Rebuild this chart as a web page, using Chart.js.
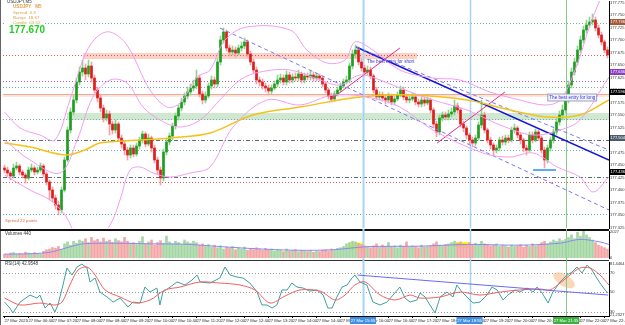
<!DOCTYPE html>
<html><head><meta charset="utf-8"><title>USDJPY M5</title>
<script src="https://cdn.jsdelivr.net/npm/chart.js@4.4.1/dist/chart.umd.min.js"></script>
<style>
html,body{margin:0;padding:0;background:#fff;}
#wrap{position:relative;width:625px;height:325px;overflow:hidden;background:#fff;font-family:Arial,"Liberation Sans",sans-serif;}
canvas{position:absolute;left:0;display:block;}
.t{position:absolute;white-space:nowrap;line-height:1;}
</style></head><body>
<div id="wrap">
<canvas id="cMain" width="625" height="229" style="top:0"></canvas>
<canvas id="cVol" width="625" height="31" style="top:229px"></canvas>
<canvas id="cRsi" width="625" height="65" style="top:260px"></canvas>
<div class="t" style="left:7px;top:0px;font-size:4.5px;color:#333">USDJPY,M5</div>
<div style="position:absolute;left:5px;top:4px;width:40px;height:31px;background:#fff"></div>
<div class="t" style="left:13px;top:5px;font-size:4.6px;color:#d9a24e;font-weight:bold">USDJPY&nbsp;&nbsp;&nbsp;M5</div>
<div class="t" style="left:13px;top:10.5px;font-size:4.4px;color:#d9a24e">Spread&nbsp;&nbsp;3.3</div>
<div class="t" style="left:13px;top:15.5px;font-size:4.4px;color:#d9a24e">Range&nbsp;&nbsp;18.67</div>
<div class="t" style="left:13px;top:20.5px;font-size:4.4px;color:#d9a24e">Candle&nbsp;&nbsp;03:52</div>
<div class="t" style="left:9px;top:25px;font-size:10px;color:#1fd01f;font-weight:bold">177.670</div>
<div class="t" style="left:5px;top:219px;font-size:4.3px;color:#e0703a">Spread 22 points</div>
<div class="t" style="left:5px;top:232px;font-size:4.5px;color:#333">Volumes 440</div>
<div class="t" style="left:5px;top:262px;font-size:4.5px;color:#333">RSI(14) 42.9548</div>
<div class="t" style="left:610px;top:262px;font-size:4px;color:#333">81.4464</div>
<div class="t" style="left:610px;top:313px;font-size:4px;color:#333">21.2327</div>
</div>
<script>
// ---------- data ----------
const open = [
177.444,177.440,177.434,177.428,177.444,177.448,177.436,177.430,177.424,177.440,
177.444,177.436,177.440,177.448,177.432,177.416,177.400,177.384,177.370,177.360,
177.400,177.460,177.520,177.556,177.580,177.616,177.636,177.644,177.632,177.648,
177.624,177.600,177.584,177.564,177.544,177.552,177.532,177.520,177.532,177.504,
177.492,177.480,177.470,177.484,177.472,177.488,177.500,177.512,177.492,177.504,
177.484,177.460,177.440,177.424,177.476,177.496,177.508,177.528,177.548,177.564,
177.576,177.588,177.596,177.604,177.608,177.624,177.592,177.580,177.588,177.608,
177.620,177.612,177.656,177.700,177.716,177.684,177.676,177.680,177.674,177.684,
177.688,177.696,177.672,177.656,177.640,177.620,177.616,177.608,177.604,177.598,
177.604,177.612,177.620,177.624,177.616,177.630,177.620,177.626,177.624,177.632,
177.620,177.628,177.626,177.630,177.624,177.628,177.624,177.612,177.600,177.588,
177.582,177.592,177.600,177.608,177.616,177.620,177.648,177.672,177.680,177.656,
177.644,177.636,177.640,177.628,177.600,177.586,177.590,177.584,177.580,177.588,
177.576,177.582,177.590,177.600,177.586,177.580,177.582,177.586,177.576,177.572,
177.580,177.574,177.580,177.560,177.532,177.516,177.544,177.550,177.546,177.552,
177.556,177.568,177.560,177.532,177.524,177.510,177.500,177.494,177.504,177.530,
177.550,177.520,177.500,177.490,177.480,177.484,177.500,177.496,177.504,177.500,
177.520,177.524,177.510,177.500,177.484,177.480,177.510,177.500,177.516,177.504,
177.480,177.460,177.484,177.500,177.516,177.536,177.550,177.560,177.580,177.610,
177.636,177.656,177.680,177.700,177.720,177.730,177.736,177.740,177.724,177.710,
177.696,177.680];
const close = [
177.440,177.434,177.428,177.444,177.448,177.436,177.430,177.424,177.440,177.444,
177.436,177.440,177.448,177.432,177.416,177.400,177.384,177.370,177.360,177.400,
177.460,177.520,177.556,177.580,177.616,177.636,177.644,177.632,177.648,177.624,
177.600,177.584,177.564,177.544,177.552,177.532,177.520,177.532,177.504,177.492,
177.480,177.470,177.484,177.472,177.488,177.500,177.512,177.492,177.504,177.484,
177.460,177.440,177.424,177.476,177.496,177.508,177.528,177.548,177.564,177.576,
177.588,177.596,177.604,177.608,177.624,177.592,177.580,177.588,177.608,177.620,
177.612,177.656,177.700,177.716,177.684,177.676,177.680,177.674,177.684,177.688,
177.696,177.672,177.656,177.640,177.620,177.616,177.608,177.604,177.598,177.604,
177.612,177.620,177.624,177.616,177.630,177.620,177.626,177.624,177.632,177.620,
177.628,177.626,177.630,177.624,177.628,177.624,177.612,177.600,177.588,177.582,
177.592,177.600,177.608,177.616,177.620,177.648,177.672,177.680,177.656,177.644,
177.636,177.640,177.628,177.600,177.586,177.590,177.584,177.580,177.588,177.576,
177.582,177.590,177.600,177.586,177.580,177.582,177.586,177.576,177.572,177.580,
177.574,177.580,177.560,177.532,177.516,177.544,177.550,177.546,177.552,177.556,
177.568,177.560,177.532,177.524,177.510,177.500,177.494,177.504,177.530,177.550,
177.520,177.500,177.490,177.480,177.484,177.500,177.496,177.504,177.500,177.520,
177.524,177.510,177.500,177.484,177.480,177.510,177.500,177.516,177.504,177.480,
177.460,177.484,177.500,177.516,177.536,177.550,177.560,177.580,177.610,177.636,
177.656,177.680,177.700,177.720,177.730,177.736,177.740,177.724,177.710,177.696,
177.680,177.670];
const high = [
177.450,177.446,177.438,177.452,177.456,177.452,177.440,177.434,177.446,177.452,
177.448,177.446,177.454,177.452,177.436,177.420,177.406,177.390,177.378,177.406,
177.466,177.526,177.564,177.590,177.624,177.646,177.660,177.652,177.660,177.656,
177.630,177.606,177.590,177.570,177.560,177.558,177.538,177.540,177.536,177.510,
177.498,177.486,177.490,177.490,177.494,177.506,177.518,177.516,177.512,177.508,
177.490,177.466,177.446,177.482,177.502,177.514,177.534,177.554,177.570,177.584,
177.594,177.606,177.612,177.620,177.640,177.630,177.598,177.596,177.614,177.628,
177.626,177.662,177.708,177.724,177.720,177.690,177.688,177.686,177.690,177.696,
177.704,177.700,177.678,177.662,177.646,177.626,177.622,177.614,177.610,177.610,
177.618,177.630,177.632,177.630,177.638,177.636,177.632,177.634,177.640,177.636,
177.634,177.634,177.638,177.636,177.634,177.632,177.628,177.616,177.604,177.594,
177.598,177.606,177.614,177.622,177.628,177.654,177.680,177.690,177.686,177.662,
177.650,177.648,177.646,177.632,177.606,177.596,177.596,177.590,177.594,177.592,
177.588,177.596,177.608,177.606,177.592,177.588,177.594,177.590,177.582,177.586,
177.586,177.586,177.584,177.564,177.538,177.550,177.556,177.556,177.560,177.564,
177.580,177.574,177.564,177.538,177.528,177.514,177.506,177.510,177.536,177.580,
177.556,177.524,177.506,177.494,177.490,177.506,177.508,177.510,177.510,177.526,
177.532,177.528,177.514,177.504,177.490,177.516,177.516,177.522,177.520,177.508,
177.486,177.490,177.506,177.522,177.542,177.558,177.570,177.588,177.618,177.644,
177.664,177.688,177.708,177.728,177.740,177.746,177.752,177.746,177.730,177.716,
177.700,177.686];
const low = [
177.434,177.428,177.420,177.424,177.440,177.430,177.424,177.414,177.420,177.436,
177.430,177.432,177.436,177.426,177.410,177.380,177.376,177.362,177.350,177.354,
177.396,177.456,177.514,177.550,177.574,177.610,177.628,177.620,177.626,177.616,
177.594,177.576,177.556,177.536,177.538,177.510,177.512,177.514,177.498,177.484,
177.470,177.460,177.464,177.466,177.468,177.482,177.494,177.486,177.488,177.476,
177.454,177.432,177.410,177.418,177.470,177.490,177.500,177.522,177.540,177.558,
177.570,177.582,177.590,177.598,177.602,177.586,177.572,177.574,177.584,177.602,
177.604,177.606,177.650,177.694,177.678,177.668,177.670,177.666,177.670,177.678,
177.682,177.666,177.650,177.634,177.612,177.608,177.602,177.596,177.590,177.592,
177.600,177.606,177.614,177.610,177.610,177.614,177.614,177.618,177.618,177.614,
177.614,177.620,177.620,177.618,177.618,177.618,177.606,177.594,177.582,177.576,
177.578,177.588,177.596,177.604,177.612,177.614,177.642,177.664,177.650,177.638,
177.628,177.630,177.622,177.594,177.580,177.580,177.578,177.572,177.574,177.570,
177.570,177.578,177.586,177.580,177.574,177.574,177.578,177.570,177.566,177.566,
177.568,177.570,177.554,177.524,177.506,177.510,177.538,177.540,177.540,177.546,
177.550,177.554,177.526,177.516,177.502,177.492,177.486,177.488,177.500,177.524,
177.514,177.494,177.482,177.470,177.474,177.478,177.490,177.490,177.494,177.496,
177.514,177.504,177.492,177.476,177.470,177.476,177.494,177.496,177.498,177.474,
177.444,177.454,177.478,177.494,177.510,177.530,177.540,177.554,177.574,177.604,
177.630,177.650,177.674,177.694,177.714,177.726,177.730,177.718,177.704,177.690,
177.674,177.664];
const volume = [
300,250,380,420,300,350,280,460,390,330,420,360,300,
520,640,700,820,760,900,680,
1100,1250,1000,1300,1150,1400,
1300,1500,1200,1600,1350,1450,1250,1550,1300,1400,1200,1500,1350,1250,1600,1300,1150,
1200,1050,1300,1650,1100,1250,1400,1000,1200,1350,1150,1700,1250,1100,1300,1200,1050,1400,1250,1150,1300,1200,1000,
1100,900,1050,850,1000,800,950,700,850,750,900,650,800,700,850,600,750,650,800,700,600,750,650,700,550,650,600,500,700,550,600,650,500,600,550,
500,600,450,550,500,600,650,550,700,600,750,800,
900,1100,1200,1300,1250,1150,1050,950,
900,800,950,1100,850,1000,900,1200,850,950,800,1000,900,1250,850,950,900,800,1000,850,900,950,1100,1250,1000,950,1050,
1100,1200,1300,1150,1250,1100,1000,1200,1050,1150,1000,1300,1100,
1050,950,1000,1100,900,1000,950,850,1000,900,950,1050,850,1000,900,1100,950,1000,
1200,1300,1100,1250,1400,1300,1500,1350,1450,
1600,1800,1500,2000,1700,2100,1800,1600,
1400,1200,1000,900,800,700];
// indicator lines: [candle index, value]
const bbUpper = [[0,177.556],[5.2,177.524],[11.8,177.510],[16.8,177.500],[21.8,177.580],[26.8,177.670],[30.8,177.706],[35.2,177.716],[40.8,177.690],[48.5,177.600],[54.2,177.566],[58.5,177.574],[64.2,177.626],[68.5,177.640],[73.5,177.700],[80.8,177.726],[95.2,177.720],[100.8,177.680],[107.5,177.654],[113.5,177.660],[116.8,177.696],[121.8,177.684],[131.8,177.640],[142.8,177.624],[151.8,177.620],[161.8,177.596],[171.8,177.580],[180.2,177.570],[185.2,177.580],[190.2,177.640],[195.2,177.730],[198.5,177.780],[201.5,177.820]];
const bbMiddle = [[0,177.500],[8.5,177.460],[18.5,177.434],[24.2,177.500],[29.5,177.586],[35.2,177.620],[40.8,177.614],[46.2,177.566],[51.8,177.540],[58.5,177.526],[65.2,177.540],[71.8,177.580],[78.5,177.620],[85.2,177.636],[95.2,177.640],[105.2,177.620],[111.8,177.610],[118.5,177.630],[125.2,177.620],[131.8,177.604],[142.8,177.580],[154.2,177.560],[165.2,177.530],[176.2,177.510],[185.2,177.520],[191.8,177.540],[201.5,177.626]];
const bbLower = [[0,177.430],[8.5,177.400],[15.2,177.380],[20.2,177.350],[24.2,177.310],[30.2,177.300],[35.2,177.330],[38.5,177.380],[41.8,177.440],[45.2,177.446],[49.5,177.434],[55.2,177.426],[61.8,177.434],[68.5,177.446],[76.2,177.526],[87.5,177.580],[98.5,177.570],[109.5,177.590],[120.8,177.586],[131.8,177.566],[142.8,177.520],[159.5,177.474],[168.5,177.466],[176.2,177.474],[184.2,177.446],[191.8,177.426],[196.2,177.396],[201.5,177.426]];
const goldMA = [[0,177.494],[8.5,177.486],[20.2,177.470],[26.8,177.480],[31.8,177.494],[45.2,177.500],[55.2,177.504],[68.5,177.514],[82.8,177.550],[98.5,177.566],[118.5,177.586],[135.2,177.590],[154.2,177.580],[168.5,177.560],[180.8,177.546],[191.8,177.550],[201.5,177.580]];
const chanLower = [[71.8,177.724],[201.5,177.360]];
const chanUpper = [[117.2,177.686],[201.5,177.480]];
const trendBlue = [[117.2,177.686],[201.5,177.460]];
const pinkLine1 = [[108.5,177.580],[131.8,177.684]];
const pinkLine2 = [[144.2,177.494],[166.8,177.596]];
const lowMark = [[176.2,177.440],[183.8,177.440]];
const levelPrices = [177.734,177.670,177.618,177.606,177.592,177.542,177.500,177.480,177.426,177.416,177.352];
const zones = [[26.2,137.5,177.662,177.674],[20.8,201.5,177.540,177.554],[-0.5,201.5,177.586,177.592]];
const axisMarks = [177.736,177.636,177.596,177.504,177.436];
const vLines = [119.5,155,187.2];
const markerTimes = ["27 Mar 15:55","27 Mar 18:55","27 Mar 21:35"];
const shortNote = [120.8,177.656,"The best entry for short"];
const longNote = [181.6,177.585,"The best entry for long"];
const volMA = [[0,300],[9.5,340],[15.2,450],[20.8,800],[26.2,1100],[37.5,1150],[48.5,1100],[59.5,1080],[65.2,1000],[76.2,820],[87.5,680],[98.5,600],[109.5,640],[120.8,880],[138.5,920],[149.5,1020],[155.2,1060],[171.8,1000],[185.2,1150],[191.8,1450],[198.5,1250],[201.5,1050]];
const volTicks = [0,2027];
const volHighlights = [[114.5,119.5,640,1200],[149.5,154.8,800,1250]];
const rsiLine = [[0,39.7],[1.8,33.6],[2.8,28.5],[5.2,39.7],[8.5,46.9],[10.8,43.8],[11.8,46.9],[13.5,33.6],[15.2,38.7],[16.8,29.5],[17.8,36.7],[19.5,57.2],[20.8,74.6],[22.5,67.4],[24.2,75.7],[25.8,78.7],[27.5,74.6],[28.5,60.3],[30.2,64.4],[31.8,50],[34.2,44.9],[36.2,39.7],[38.5,43.8],[41.2,34.6],[42.8,39.7],[45.2,38.7],[46.8,55.1],[48.5,50],[50.8,54.1],[51.8,36.7],[52.8,50],[55.2,55.1],[57.5,60.3],[60.2,57.2],[62.5,62.3],[64.2,67.4],[65.2,60.3],[68.5,59.2],[71.8,64.4],[73.5,75.7],[75.2,67.4],[77.5,65.4],[79.5,64.4],[81.8,59.2],[84.2,50],[85.8,36.7],[87.5,36.7],[89.2,33.6],[90.8,36.7],[92.5,52.1],[94.2,52.1],[95.8,59.2],[97.5,55.1],[99.5,54.1],[101.8,51],[104.2,52.1],[106.2,46.9],[107.8,33.6],[109.2,33.6],[110.8,44.9],[112.5,55.1],[114.2,57.2],[115.8,64.4],[116.8,67.4],[118.5,60.3],[120.8,57.2],[122.8,39.7],[125.2,36.7],[127.5,39.7],[129.5,46.9],[131.8,55.1],[133.5,43.8],[135.2,39.7],[137.5,41.8],[138.5,49],[140.2,44.9],[141.8,36.7],[143.5,28.5],[145.2,44.9],[147.5,50],[149.5,44.9],[150.8,57.2],[152.5,50],[154.5,43.8],[156.2,38.7],[158.5,39.7],[160.8,46.9],[162.5,55.1],[164.2,52.1],[166.2,41.8],[167.8,46.9],[170.2,52.1],[171.8,50],[174.2,54.1],[176.2,50],[177.5,55.1],[179.2,49],[181.2,38.7],[182.8,50],[185.2,60.3],[187.5,67.4],[189.2,70.5],[190.8,75.7],[192.5,69.5],[194.2,77.7],[195.8,72.6],[196.8,67.4],[198.5,59.2],[200.2,52.1],[201.2,49]];
const rsiSignal = [[0,43.8],[5.2,36.7],[11.8,38.7],[16.8,36.7],[19.2,39.7],[21.8,57.2],[24.5,72.6],[27.5,75.7],[30.2,67.4],[33.5,52.1],[38.5,44.9],[43.5,38.7],[48.5,41.8],[53.5,52.1],[58.5,55.1],[65.2,60.3],[71.8,59.2],[78.5,57.2],[83.5,52.1],[88.5,38.7],[93.5,45.9],[98.5,52.1],[105.2,51],[110.2,41.8],[113.5,46.9],[116.8,57.2],[120.2,60.3],[125.2,46.9],[130.2,41.8],[135.2,46.9],[138.5,43.8],[145.2,44.9],[151.8,50],[158.5,46.9],[165.2,50],[171.8,52.1],[178.5,53.1],[181.8,52.1],[185.2,59.2],[188.5,67.4],[191.8,74.6],[195.2,74.6],[198.5,67.4],[201.5,57.2]];
const rsiTrend = [[117.7,67.4],[201.2,46.9]];
const rsiLevels = [70,50,30];
const rsiEllipse = [182.8,190.2,54,70];
const labelEvery = 8;
const timeLabels = ["27 Mar 2025","27 Mar 06:40","27 Mar 07:20","27 Mar 08:00","27 Mar 08:40","27 Mar 09:20","27 Mar 10:00","27 Mar 10:40","27 Mar 11:20","27 Mar 12:00","27 Mar 12:40","27 Mar 13:20","27 Mar 14:00","27 Mar 14:40","27 Mar 15:20","27 Mar 16:00","27 Mar 16:40","27 Mar 17:20","27 Mar 18:00","27 Mar 18:40","27 Mar 19:20","27 Mar 20:00","27 Mar 20:40","27 Mar 21:20","27 Mar 22:00","27 Mar 22:40"];

// ---------- styles ----------
const N = close.length;
const bull = close.map((c,i)=>c>=open[i]);
const levelStyles = [
 {c:'#6fb3b3',w:1,d:[1,2]},{c:'#e05a5a',w:1,d:[1,2]},{c:'#9a62c8',w:1,d:[1,2]},{c:'#6fb3b3',w:1,d:[1,2]},
 {c:'#f3a88e',w:1,d:[]},{c:'#6fb3b3',w:1,d:[1,2]},{c:'#5f6b78',w:1,d:[4,2,1,2]},{c:'#6fb3b3',w:1,d:[1,2]},
 {c:'#5f6b78',w:1,d:[4,2,1,2]},{c:'#e05a5a',w:1,d:[1,2]},{c:'#4fb0b0',w:1,d:[1,2]}];
const zoneColors = ['rgba(248,170,150,0.55)','rgba(150,205,150,0.45)','rgba(250,200,185,0.45)'];
const axisMarkColors = ['#a5583a','#8b3fc0','#000000','#4c5a6b','#000000'];
const vLineColors = ['#a9d3f3','#a9d3f3','#86c886'];
const vLineWidths = [2,1.5,1];
const markerColors = ['#3f90e2','#3f90e2','#3cb03c'];
const tickFont = {family:"Arial,'Liberation Sans',sans-serif", size:4};
const narrowFont = {family:"'Liberation Sans Narrow','Arial Narrow',Arial,sans-serif", size:4.2};

function pts(a){ return a.map(p=>({x:p[0],y:p[1]})); }
function lineDs(a,color,width,dash,tension){
  return {type:'line',data:pts(a),borderColor:color,borderWidth:width,borderDash:dash||[],pointRadius:0,tension:tension||0,fill:false,order:0};
}
function xScale(){ return {type:'linear',min:-0.5,max:N-0.5,offset:false,display:false}; }
function yFit(s){ s.width=16; s.paddingTop=0; s.paddingBottom=0; }
function drawVLines(ch, bottom){
  const {ctx, scales:{x}} = ch;
  ctx.save();
  vLines.forEach((v,k)=>{
    const px = Math.round(x.getPixelForValue(v))+0.5;
    ctx.strokeStyle = vLineColors[k]; ctx.lineWidth = vLineWidths[k];
    ctx.beginPath(); ctx.moveTo(px,0); ctx.lineTo(px,bottom); ctx.stroke();
  });
  ctx.restore();
}
const baseOpts = {responsive:false, animation:false, devicePixelRatio:1, events:[],
  plugins:{legend:{display:false}, tooltip:{enabled:false}}};

// ---------- main price panel ----------
const mainDecor = {id:'mainDecor',
  beforeDatasetsDraw(ch){
    const {ctx, chartArea:a, scales:{x,y}} = ch;
    ctx.save();
    ctx.fillStyle='#666'; ctx.fillRect(0,0,1,ch.height);
    ctx.beginPath(); ctx.rect(a.left,a.top,a.right-a.left,a.bottom-a.top); ctx.clip();
    zones.forEach((z,k)=>{
      const x0=x.getPixelForValue(z[0]), x1=x.getPixelForValue(z[1]);
      const y0=y.getPixelForValue(z[3]), y1=y.getPixelForValue(z[2]);
      ctx.fillStyle=zoneColors[k]; ctx.fillRect(x0,y0,x1-x0,y1-y0);
    });
    levelPrices.forEach((p,k)=>{
      const st=levelStyles[k]; const py=Math.round(y.getPixelForValue(p))+0.5;
      ctx.strokeStyle=st.c; ctx.lineWidth=st.w; ctx.setLineDash(st.d);
      ctx.beginPath(); ctx.moveTo(a.left,py); ctx.lineTo(a.right,py); ctx.stroke();
    });
    ctx.setLineDash([]);
    ctx.restore();
    drawVLines(ch, a.bottom);
  },
  afterDatasetsDraw(ch){
    const {ctx, scales:{x,y}} = ch;
    ctx.save();
    ctx.font = "4.6px Arial"; ctx.textBaseline='middle';
    ctx.fillStyle='#3434c8';
    ctx.fillText(shortNote[2], x.getPixelForValue(shortNote[0]), y.getPixelForValue(shortNote[1]));
    const lx=x.getPixelForValue(longNote[0]), ly=y.getPixelForValue(longNote[1]);
    const w=ctx.measureText(longNote[2]).width;
    ctx.fillStyle='#f3f3ff'; ctx.fillRect(lx-1.5,ly-3.5,w+3,7);
    ctx.strokeStyle='#8a8aa8'; ctx.lineWidth=0.8; ctx.strokeRect(lx-1.5,ly-3.5,w+3,7);
    ctx.fillStyle='#3434c8'; ctx.fillText(longNote[2], lx, ly+0.3);
    ctx.restore();
  },
  afterDraw(ch){
    const {ctx, chartArea:a, scales:{y}} = ch;
    ctx.save();
    ctx.font="4px Arial"; ctx.textBaseline='middle';
    axisMarks.forEach((p,k)=>{
      const py=y.getPixelForValue(p);
      ctx.fillStyle=axisMarkColors[k]; ctx.fillRect(a.right+1,py-3,15,6);
      ctx.fillStyle='#fff'; ctx.fillText(p.toFixed(3), a.right+1.5, py+0.2);
    });
    ctx.restore();
  }
};
new Chart(document.getElementById('cMain'), {
  type:'bar',
  data:{datasets:[
    lineDs(bbUpper,'#f29cf2',1,[],0.35),
    lineDs(bbMiddle,'#f29cf2',1,[],0.35),
    lineDs(bbLower,'#f29cf2',1,[],0.35),
    lineDs(goldMA,'#f2c31a',1.5,[],0.35),
    lineDs(chanLower,'#7878f0',1,[4,3]),
    lineDs(chanUpper,'#7878f0',1,[4,3]),
    lineDs(trendBlue,'#1414d8',1.5),
    lineDs(pinkLine1,'#f0288c',1),
    lineDs(pinkLine2,'#f0288c',1),
    lineDs(lowMark,'#2490f0',1.5),
    {type:'bar',data:close.map((c,i)=>({x:i,y:[open[i],c]})),backgroundColor:bull.map(b=>b?'#1f9f1f':'#e41b1b'),barThickness:2,minBarLength:1,grouped:false,order:1},
    {type:'bar',data:close.map((c,i)=>({x:i,y:[low[i],high[i]]})),backgroundColor:bull.map(b=>b?'#92d392':'#f4a2aa'),barThickness:1,grouped:false,order:2}
  ]},
  options:Object.assign({}, baseOpts, {
    layout:{padding:{left:3,top:1,bottom:1,right:0}},
    scales:{
      x:xScale(),
      y:{type:'linear',position:'right',min:177.324,max:177.778,
         grid:{display:false,drawTicks:false},border:{display:true,color:'#000',width:1},
         ticks:{stepSize:0.025,includeBounds:false,padding:1,font:tickFont,color:'#333',callback:v=>Number(v).toFixed(3)},
         afterFit:yFit}
    }
  }),
  plugins:[mainDecor]
});

// ---------- volume panel ----------
const volDecor = {id:'volDecor',
  beforeDatasetsDraw(ch){
    const {ctx, chartArea:a, scales:{x,y}} = ch;
    ctx.save();
    ctx.fillStyle='#666'; ctx.fillRect(0,0,1,ch.height);
    ctx.fillStyle='#111'; ctx.fillRect(0,0,a.right,2);
    ctx.fillStyle='#ffff00';
    volHighlights.forEach(r=>{
      const x0=x.getPixelForValue(r[0]), x1=x.getPixelForValue(r[1]);
      const y0=y.getPixelForValue(r[3]), y1=y.getPixelForValue(r[2]);
      ctx.fillRect(x0,y0,x1-x0,y1-y0);
    });
    ctx.restore();
    drawVLines(ch, ch.height);
  }
};
new Chart(document.getElementById('cVol'), {
  type:'bar',
  data:{datasets:[
    lineDs(volMA,'#8a8af2',1,[],0.3),
    {type:'bar',data:volume.map((v,i)=>({x:i,y:v})),backgroundColor:bull.map(b=>b?'#a4d6a4':'#f3a6a6'),barThickness:2,grouped:false,order:1}
  ]},
  options:Object.assign({}, baseOpts, {
    layout:{padding:{left:3,top:2,bottom:2,right:0}},
    scales:{
      x:xScale(),
      y:{type:'linear',position:'right',min:0,max:2100,
         grid:{display:false,drawTicks:false},border:{display:true,color:'#000',width:1},
         afterBuildTicks:s=>{ s.ticks = volTicks.map(v=>({value:v})); },
         ticks:{padding:1,font:tickFont,color:'#333',callback:v=>String(v)},
         afterFit:yFit}
    }
  }),
  plugins:[volDecor]
});

// ---------- RSI panel ----------
const rsiDecor = {id:'rsiDecor',
  beforeDatasetsDraw(ch){
    const {ctx, chartArea:a, scales:{x,y}} = ch;
    ctx.save();
    ctx.fillStyle='#666'; ctx.fillRect(0,0,1,ch.height);
    ctx.fillStyle='#333'; ctx.fillRect(0,0,a.right,1);
    ctx.strokeStyle='#9a9a9a'; ctx.lineWidth=1; ctx.setLineDash([1,2]);
    rsiLevels.forEach(l=>{
      const py=Math.round(y.getPixelForValue(l))+0.5;
      ctx.beginPath(); ctx.moveTo(a.left,py); ctx.lineTo(a.right,py); ctx.stroke();
    });
    ctx.setLineDash([]);
    const ex0=x.getPixelForValue(rsiEllipse[0]), ex1=x.getPixelForValue(rsiEllipse[1]);
    const ey0=y.getPixelForValue(rsiEllipse[3]), ey1=y.getPixelForValue(rsiEllipse[2]);
    ctx.fillStyle='rgba(248,190,140,0.6)';
    ctx.beginPath();
    ctx.ellipse((ex0+ex1)/2,(ey0+ey1)/2,(ex1-ex0)/2+1,(ey1-ey0)/2-2,0.55,0,Math.PI*2);
    ctx.fill();
    ctx.restore();
    drawVLines(ch, a.bottom);
  },
  afterDraw(ch){
    const {ctx, chartArea:a, scales:{x}} = ch;
    ctx.save();
    ctx.font="4.2px 'Liberation Sans Narrow','Arial Narrow',Arial"; ctx.textBaseline='middle'; ctx.textAlign='center';
    vLines.forEach((v,k)=>{
      const px=x.getPixelForValue(v);
      ctx.fillStyle=markerColors[k]; ctx.fillRect(px-13,a.bottom+1,26,7);
      ctx.fillStyle='#fff'; ctx.fillText(markerTimes[k], px, a.bottom+4.7);
    });
    ctx.restore();
  }
};
new Chart(document.getElementById('cRsi'), {
  type:'line',
  data:{datasets:[
    lineDs(rsiTrend,'#6a6af0',1),
    lineDs(rsiSignal,'#f06060',1,[],0.3),
    lineDs(rsiLine,'#3f9f9f',1,[],0)
  ]},
  options:Object.assign({}, baseOpts, {
    layout:{padding:{left:3,top:2,bottom:0,right:0}},
    scales:{
      x:{type:'linear',min:-0.5,max:N-0.5,offset:false,position:'bottom',
         grid:{display:true,drawOnChartArea:false,drawTicks:true,tickLength:2,color:'#000'},
         border:{display:true,color:'#000',width:1},
         afterBuildTicks:s=>{ s.ticks = timeLabels.map((t,k)=>({value:k*labelEvery})); },
         ticks:{autoSkip:false,maxRotation:0,minRotation:0,align:'start',padding:0,font:narrowFont,color:'#333',
                callback:(v,i)=>timeLabels[i]},
         afterFit:s=>{ s.height=9; s.paddingLeft=0; s.paddingRight=0; }},
      y:{type:'linear',position:'right',min:25.4,max:80.8,
         grid:{display:false,drawTicks:false},border:{display:true,color:'#000',width:1},
         afterBuildTicks:s=>{ s.ticks = rsiLevels.map(v=>({value:v})); },
         ticks:{padding:1,font:tickFont,color:'#333',callback:v=>String(v)},
         afterFit:yFit}
    }
  }),
  plugins:[rsiDecor]
});
</script>
</body></html>
